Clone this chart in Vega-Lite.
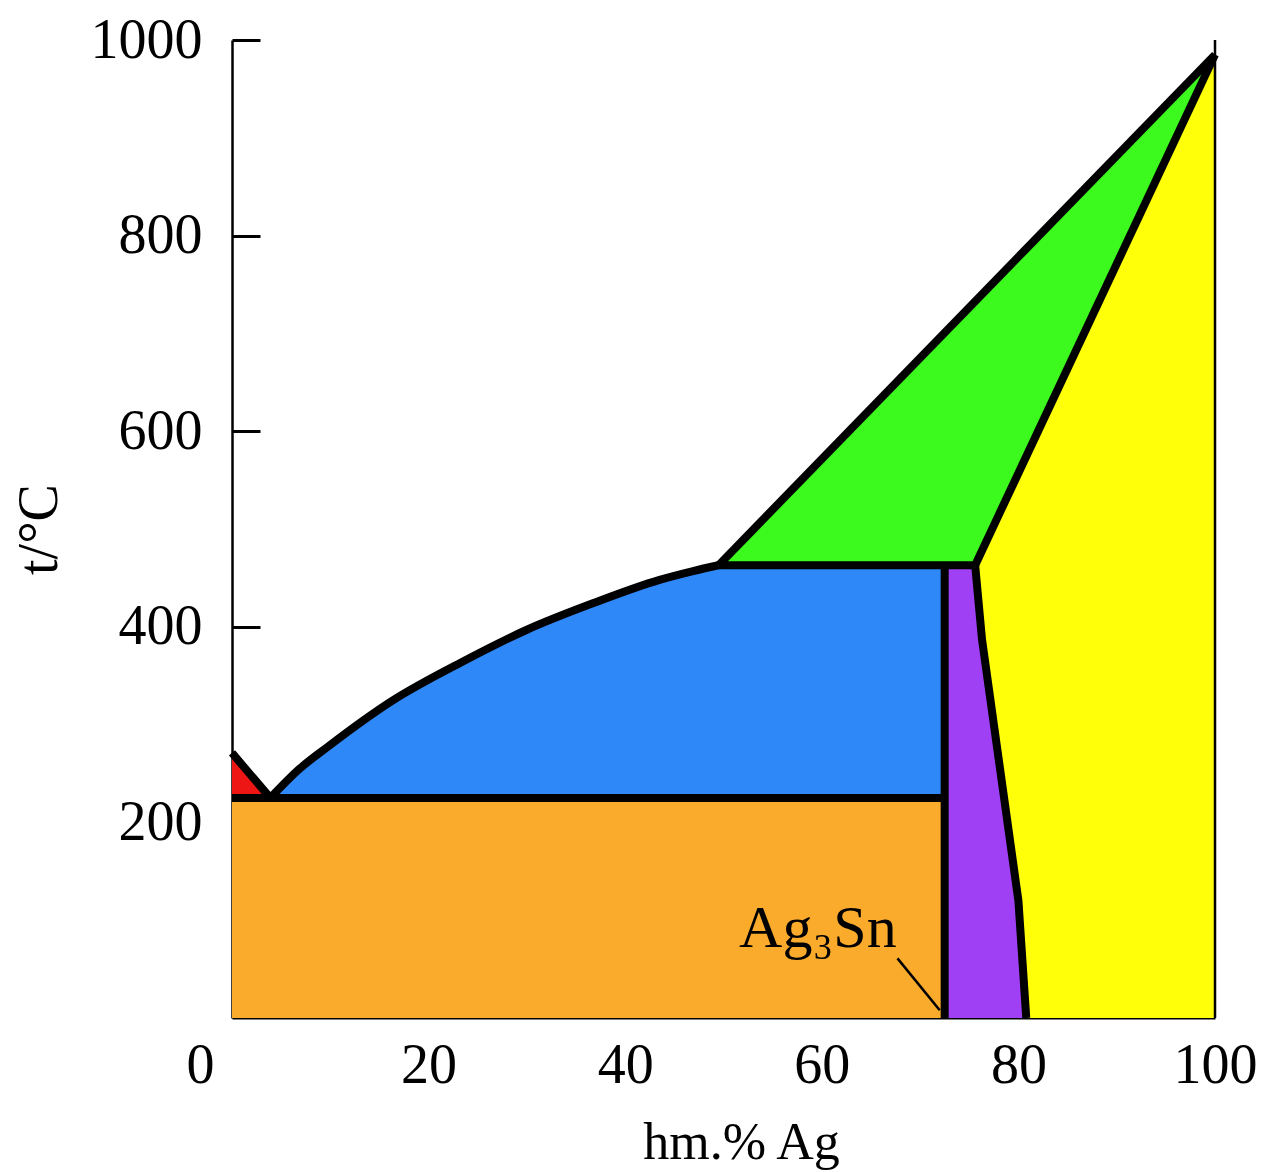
{
  "$schema": "https://vega.github.io/schema/vega-lite/v6.json",
  "width": 983,
  "height": 978,
  "autosize": "none",
  "padding": {"left": 232, "top": 40, "right": 48, "bottom": 154},
  "background": "white",
  "config": {"view": {"stroke": null}},
  "datasets": {
    "regions": [
      {"region": "Sn", "i": 1, "x": 0, "y": 271},
      {"region": "Sn", "i": 2, "x": 3.9, "y": 225},
      {"region": "Sn", "i": 3, "x": 0, "y": 225},
      {"region": "Sn+Ag3Sn", "i": 1, "x": 0, "y": 0},
      {"region": "Sn+Ag3Sn", "i": 2, "x": 0, "y": 225},
      {"region": "Sn+Ag3Sn", "i": 3, "x": 72.5, "y": 225},
      {"region": "Sn+Ag3Sn", "i": 4, "x": 72.5, "y": 0},
      {"region": "L+Ag3Sn", "i": 1, "x": 3.9, "y": 225},
      {"region": "L+Ag3Sn", "i": 2, "x": 6.9, "y": 255},
      {"region": "L+Ag3Sn", "i": 3, "x": 9.7, "y": 277},
      {"region": "L+Ag3Sn", "i": 4, "x": 16.4, "y": 325},
      {"region": "L+Ag3Sn", "i": 5, "x": 23.2, "y": 363},
      {"region": "L+Ag3Sn", "i": 6, "x": 30.0, "y": 397},
      {"region": "L+Ag3Sn", "i": 7, "x": 36.7, "y": 424},
      {"region": "L+Ag3Sn", "i": 8, "x": 43.5, "y": 448},
      {"region": "L+Ag3Sn", "i": 9, "x": 46.9, "y": 457},
      {"region": "L+Ag3Sn", "i": 10, "x": 49.5, "y": 463},
      {"region": "L+Ag3Sn", "i": 11, "x": 72.5, "y": 463},
      {"region": "L+Ag3Sn", "i": 12, "x": 72.5, "y": 225},
      {"region": "L+Ag", "i": 1, "x": 49.5, "y": 463},
      {"region": "L+Ag", "i": 2, "x": 100, "y": 985},
      {"region": "L+Ag", "i": 3, "x": 75.6, "y": 463},
      {"region": "zeta", "i": 1, "x": 72.5, "y": 463},
      {"region": "zeta", "i": 2, "x": 75.6, "y": 463},
      {"region": "zeta", "i": 3, "x": 76.3, "y": 387},
      {"region": "zeta", "i": 4, "x": 80.0, "y": 120},
      {"region": "zeta", "i": 5, "x": 80.8, "y": 0},
      {"region": "zeta", "i": 6, "x": 72.5, "y": 0},
      {"region": "Ag", "i": 1, "x": 75.6, "y": 463},
      {"region": "Ag", "i": 2, "x": 100, "y": 985},
      {"region": "Ag", "i": 3, "x": 100, "y": 0},
      {"region": "Ag", "i": 4, "x": 80.8, "y": 0},
      {"region": "Ag", "i": 5, "x": 80.0, "y": 120},
      {"region": "Ag", "i": 6, "x": 76.3, "y": 387}
    ],
    "boundaries": [
      {"seg": "A", "i": 1, "x": 0, "y": 271},
      {"seg": "A", "i": 2, "x": 3.9, "y": 225},
      {"seg": "B", "i": 1, "x": 0, "y": 225},
      {"seg": "B", "i": 2, "x": 72.5, "y": 225},
      {"seg": "D", "i": 1, "x": 49.5, "y": 463},
      {"seg": "D", "i": 2, "x": 75.6, "y": 463},
      {"seg": "E", "i": 1, "x": 49.5, "y": 463},
      {"seg": "E", "i": 2, "x": 100, "y": 985},
      {"seg": "F", "i": 1, "x": 75.6, "y": 463},
      {"seg": "F", "i": 2, "x": 100, "y": 985},
      {"seg": "G", "i": 1, "x": 72.5, "y": 463},
      {"seg": "G", "i": 2, "x": 72.5, "y": 0},
      {"seg": "H", "i": 1, "x": 75.6, "y": 463},
      {"seg": "H", "i": 2, "x": 76.3, "y": 387},
      {"seg": "H", "i": 3, "x": 80.0, "y": 120},
      {"seg": "H", "i": 4, "x": 80.8, "y": 0}
    ],
    "curves": [
      {"seg": "C", "i": 1, "x": 3.9, "y": 225},
      {"seg": "C", "i": 2, "x": 6.9, "y": 255},
      {"seg": "C", "i": 3, "x": 9.7, "y": 277},
      {"seg": "C", "i": 4, "x": 16.4, "y": 325},
      {"seg": "C", "i": 5, "x": 23.2, "y": 363},
      {"seg": "C", "i": 6, "x": 30.0, "y": 397},
      {"seg": "C", "i": 7, "x": 36.7, "y": 424},
      {"seg": "C", "i": 8, "x": 43.5, "y": 448},
      {"seg": "C", "i": 9, "x": 46.9, "y": 457},
      {"seg": "C", "i": 10, "x": 49.5, "y": 463}
    ],
    "thin": [
      {"seg": "edge", "i": 1, "x": 100, "y": 0},
      {"seg": "edge", "i": 2, "x": 100, "y": 1000},
      {"seg": "leader", "i": 1, "x": 67.7, "y": 61},
      {"seg": "leader", "i": 2, "x": 72.0, "y": 8}
    ],
    "labels": [
      {"label": "Ag₃Sn", "x": 59.6, "y": 72.6}
    ]
  },
  "encoding": {
    "x": {
      "field": "x", "type": "quantitative",
      "scale": {"domain": [0, 100], "nice": false, "zero": false},
      "axis": {
        "values": [0, 20, 40, 60, 80, 100],
        "format": "d",
        "title": "hm.% Ag",
        "grid": false,
        "labelFlush": false,
        "labelFont": "Liberation Serif", "labelFontSize": 56, "labelColor": "black",
        "labelPadding": 48,
        "labelOffset": {"condition": {"test": "datum.value == 0", "value": -32}, "value": 0},
        "tickSize": -28, "tickWidth": 3, "tickColor": "black",
        "tickOpacity": {"condition": {"test": "datum.value == 0 || datum.value == 100", "value": 0}, "value": 1},
        "domainColor": "black", "domainWidth": 2,
        "titleFont": "Liberation Serif", "titleFontSize": 52, "titleFontWeight": "normal", "titleColor": "black",
        "titlePadding": 24,
        "titleX": 509
      }
    },
    "y": {
      "field": "y", "type": "quantitative",
      "scale": {"domain": [0, 1000], "nice": false, "zero": false},
      "axis": {
        "values": [200, 400, 600, 800, 1000],
        "format": "d",
        "title": "t/°C",
        "grid": false,
        "labelFont": "Liberation Serif", "labelFontSize": 56, "labelColor": "black",
        "labelPadding": 58,
        "tickSize": -28, "tickWidth": 3, "tickColor": "black",
        "domainColor": "black", "domainWidth": 2.5,
        "titleFont": "Liberation Serif", "titleFontSize": 56, "titleFontWeight": "normal", "titleColor": "black",
        "titlePadding": 22
      }
    }
  },
  "layer": [
    {
      "data": {"name": "regions"},
      "mark": {"type": "line", "strokeWidth": 0, "fillOpacity": 1},
      "encoding": {
        "fill": {
          "field": "region", "type": "nominal",
          "scale": {
            "domain": ["Sn", "Sn+Ag3Sn", "L+Ag3Sn", "L+Ag", "zeta", "Ag"],
            "range": ["#EE1515", "#FAAB2C", "#2F88F7", "#3CF91E", "#A040F5", "#FFFF0A"]
          },
          "legend": null
        },
        "order": {"field": "i", "type": "quantitative"}
      }
    },
    {
      "data": {"name": "boundaries"},
      "mark": {"type": "line", "color": "black", "strokeWidth": 8, "strokeJoin": "round"},
      "encoding": {
        "detail": {"field": "seg", "type": "nominal"},
        "order": {"field": "i", "type": "quantitative"}
      }
    },
    {
      "data": {"name": "curves"},
      "mark": {"type": "line", "color": "black", "strokeWidth": 8, "strokeJoin": "round", "interpolate": "monotone"},
      "encoding": {
        "detail": {"field": "seg", "type": "nominal"},
        "order": {"field": "i", "type": "quantitative"}
      }
    },
    {
      "data": {"name": "thin"},
      "mark": {"type": "line", "color": "black", "strokeWidth": 2.5},
      "encoding": {
        "detail": {"field": "seg", "type": "nominal"},
        "order": {"field": "i", "type": "quantitative"}
      }
    },
    {
      "data": {"name": "labels"},
      "mark": {"type": "text", "font": "Liberation Serif", "fontSize": 60, "color": "black", "align": "center", "baseline": "alphabetic"},
      "encoding": {
        "text": {"field": "label", "type": "nominal"}
      }
    }
  ]
}
